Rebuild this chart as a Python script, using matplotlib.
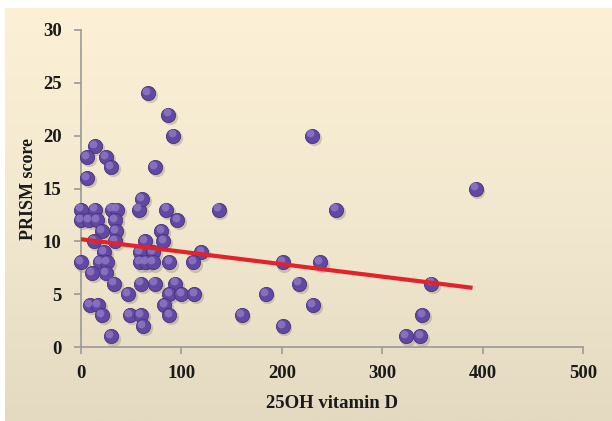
import numpy as np
import matplotlib
matplotlib.use('Agg')
import matplotlib.pyplot as plt
from matplotlib.transforms import offset_copy
from matplotlib.colors import LinearSegmentedColormap

# 25OH vitamin D vs PRISM score
vit_d = [0, 14, 31, 36, 58, 85, 137, 254,
         0, 8, 16, 34, 96,
         21, 35, 80,
         13, 34, 64, 82,
         23, 59, 72, 120,
         0, 19, 26, 59, 65, 72, 88, 112, 201, 238,
         11, 25,
         33, 60, 74, 94, 217, 349,
         47, 88, 100, 113, 184,
         9, 17, 83, 231,
         21, 49, 60, 88, 160, 340,
         62, 201,
         30, 324, 338,
         67, 87, 92, 230, 14, 6, 25, 30, 74, 6, 61, 393]
prism = [13, 13, 13, 13, 13, 13, 13, 13,
         12, 12, 12, 12, 12,
         11, 11, 11,
         10, 10, 10, 10,
         9, 9, 9, 9,
         8, 8, 8, 8, 8, 8, 8, 8, 8, 8,
         7, 7,
         6, 6, 6, 6, 6, 6,
         5, 5, 5, 5, 5,
         4, 4, 4, 4,
         3, 3, 3, 3, 3, 3,
         2, 2,
         1, 1, 1,
         24, 22, 20, 20, 19, 18, 18, 17, 17, 16, 14, 15]

# trend line end points
trend_x = [0, 390]
trend_y = [10.2, 5.6]

fig = plt.figure(figsize=(6.12, 4.21), dpi=100)
fig.patch.set_facecolor('white')

# cream gradient background
bg = fig.add_axes([5 / 612, 0, 1 - 5 / 612, 1 - 8 / 421], zorder=-5)
cmap = LinearSegmentedColormap.from_list('cream', ['#e4d9c1', '#f2e8cf', '#fcf1d6'])
grad = np.linspace(0, 1, 256).reshape(-1, 1)
bg.imshow(grad, aspect='auto', cmap=cmap, origin='lower', extent=[0, 1, 0, 1])
bg.set_axis_off()

ax = fig.add_axes([81 / 612, 1 - 347 / 421, (583 - 81) / 612, (347 - 30) / 421])
ax.patch.set_alpha(0)

ax.plot(trend_x, trend_y, color='#e3222a', lw=3.0, zorder=4, solid_capstyle='butt')

shadow = offset_copy(ax.transData, fig=fig, x=1.2, y=-1.5, units='points')
hl = offset_copy(ax.transData, fig=fig, x=-1.3, y=1.6, units='points')
ax.scatter(vit_d, prism, s=120, color='#8a8070', alpha=0.35, lw=0,
           transform=shadow, zorder=2, clip_on=False)
ax.scatter(vit_d, prism, s=105, color='#6148a0', edgecolor='#4a327e', lw=0.6,
           zorder=3, clip_on=False)
ax.scatter(vit_d, prism, s=32, color='#907ac6', lw=0, alpha=0.8,
           transform=hl, zorder=3, clip_on=False)

ax.set_xlim(0, 500)
ax.set_ylim(0, 30)
ax.set_xticks(range(0, 501, 100))
ax.set_yticks(range(0, 31, 5))

for s in ['top', 'right']:
    ax.spines[s].set_visible(False)
for s in ['left', 'bottom']:
    ax.spines[s].set_color('#9a9a96')
    ax.spines[s].set_linewidth(1.2)
ax.tick_params(colors='#9a9a96', width=1.2, length=5, labelcolor='#1a1a1a')

serif = ['Liberation Serif', 'DejaVu Serif']
for lab in ax.get_xticklabels() + ax.get_yticklabels():
    lab.set_family(serif)
    lab.set_fontweight('bold')
    lab.set_fontsize(13.5)
ax.tick_params(axis='x', pad=8)
ax.tick_params(axis='y', pad=9)

ax.set_xlabel('25OH vitamin D', family=serif, fontweight='bold', fontsize=13.5,
              labelpad=9, color='#1a1a1a')
ax.set_ylabel('PRISM score', family=serif, fontweight='bold', fontsize=13,
              labelpad=4, color='#1a1a1a')

fig.savefig('out.png', dpi=100)
